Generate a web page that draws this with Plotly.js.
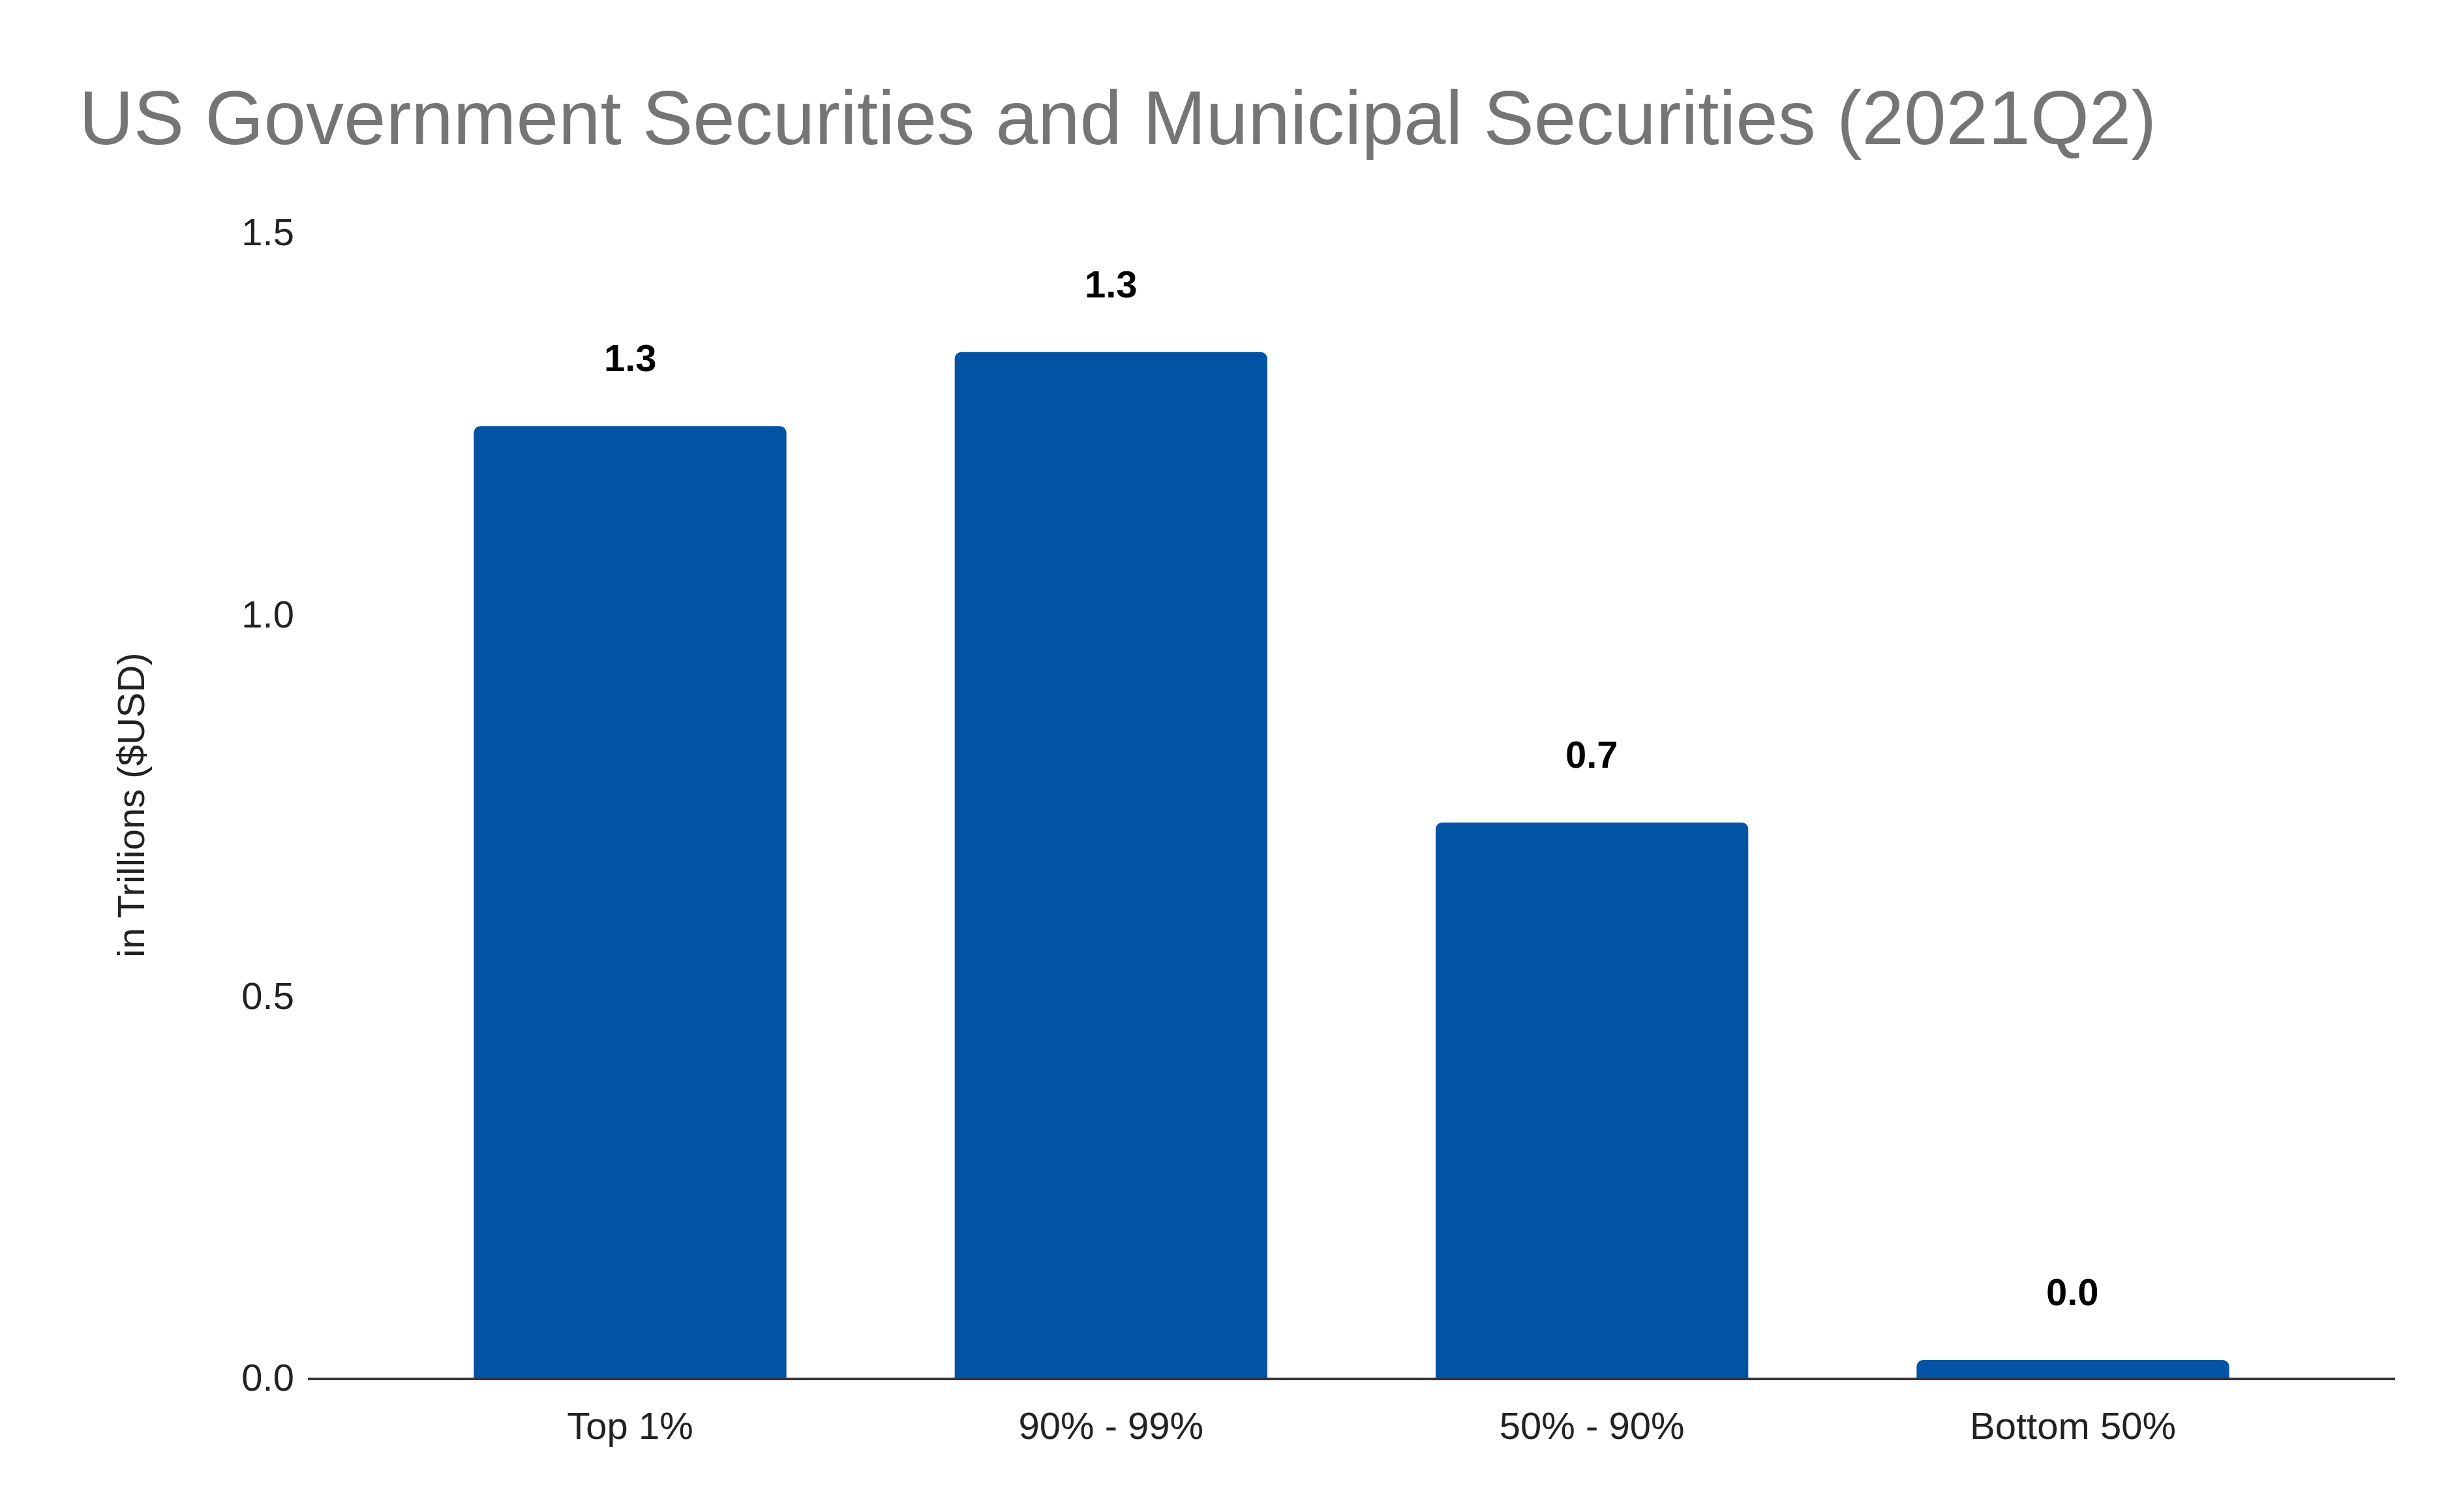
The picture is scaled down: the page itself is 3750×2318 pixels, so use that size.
<!DOCTYPE html>
<html>
<head>
<meta charset="utf-8">
<script src="https://cdn.plot.ly/plotly-3.0.1.min.js"></script>
<style>html,body{margin:0;padding:0;background:#fff}</style>
</head>
<body>
<div id="chart" style="width:3750px;height:2318px"></div>
<script>
const categories = ["Top 1%", "90% - 99%", "50% - 90%", "Bottom 50%"];
const values = [1.246, 1.343, 0.727, 0.023];
const valueLabels = ["1.3", "1.3", "0.7", "0.0"];
const tickVals = [0, 0.5, 1.0, 1.5];
const tickText = ["0.0", "0.5", "1.0", "1.5"];

const annotations = categories.map((c, i) => ({
  x: c, y: values[i], xref: "x", yref: "y",
  text: "<b>" + valueLabels[i] + "</b>",
  showarrow: false, yanchor: "bottom", yshift: 70,
  font: { family: "Arial, Liberation Sans, sans-serif", size: 58, color: "#000" }
}));

Plotly.newPlot("chart", [{
  type: "bar",
  x: categories,
  y: values,
  width: 0.65,
  marker: { color: "#0353a4", cornerradius: 10 },
  hoverinfo: "none"
}], {
  width: 3750, height: 2318,
  paper_bgcolor: "#fff", plot_bgcolor: "#fff",
  margin: { l: 472, r: 78, t: 356, b: 206 },
  font: { family: "Arial, Liberation Sans, sans-serif", size: 58, color: "#222" },
  title: {
    text: "US Government Securities and Municipal Securities (2021Q2)",
    font: { size: 116, color: "#757575" },
    x: 121 / 3750, xanchor: "left", xref: "container",
    y: 1 - 180 / 2318, yanchor: "middle", yref: "container"
  },
  annotations: annotations,
  xaxis: {
    range: [-0.67, 3.67],
    showline: true, linecolor: "#333", linewidth: 4,
    ticks: "", tickfont: { size: 58, color: "#222" }, ticklabelstandoff: 20
  },
  yaxis: {
    range: [0, 1.5],
    tickvals: tickVals, ticktext: tickText,
    showgrid: false, zeroline: false, showline: false,
    tickfont: { size: 58, color: "#222" }, ticklabelstandoff: 20,
    title: { text: "in Trillions ($USD)", font: { size: 58, color: "#222" }, standoff: 130 }
  }
}, { displayModeBar: false, staticPlot: true });
</script>
</body>
</html>
